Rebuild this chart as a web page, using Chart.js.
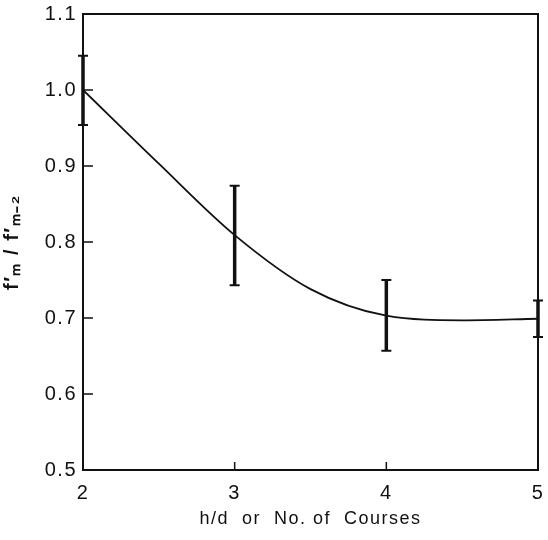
<!DOCTYPE html>
<html>
<head>
<meta charset="utf-8">
<script src="https://cdn.jsdelivr.net/npm/chart.js@4"></script>
<style>
  html, body { margin: 0; padding: 0; background: #fff; }
</style>
</head>
<body>
<canvas id="chart" width="548" height="540"></canvas>
<script>
// values
const courses = [2, 3, 4, 5];
const ratioMean = [1.0, 0.809, 0.703, 0.699];
const ratioHigh = [1.045, 0.874, 0.750, 0.723];
const ratioLow = [0.954, 0.743, 0.657, 0.675];

// fitted curve as drawn
const curveX = [2, 2.5, 3, 3.5, 4, 4.5, 5];
const curveY = [1.0, 0.903, 0.809, 0.738, 0.703, 0.697, 0.699];

const yTicks = [0.5, 0.6, 0.7, 0.8, 0.9, 1.0, 1.1];
const xTicks = [2, 3, 4, 5];

const ink = "#111";
const font = "'Liberation Sans', Arial, sans-serif";

// wider letter spacing like the labels of the scan
const spacingPlugin = {
  id: "spacing",
  beforeInit(chart) { chart.ctx.letterSpacing = "1.5px"; },
  beforeDraw(chart) { chart.ctx.letterSpacing = "1.5px"; }
};

// frame, inner tick marks and the error bars
const paperPlugin = {
  id: "paper",
  afterDatasetsDraw(chart) {
    const { ctx, chartArea: a, scales } = chart;
    const x = scales.x, y = scales.y;
    ctx.save();
    ctx.strokeStyle = ink;
    ctx.lineWidth = 2;
    ctx.strokeRect(a.left, a.top, a.right - a.left, a.bottom - a.top);

    ctx.lineWidth = 1.5;
    yTicks.forEach(v => {
      const py = y.getPixelForValue(v);
      ctx.beginPath();
      ctx.moveTo(a.left, py);
      ctx.lineTo(a.left + 10, py);
      ctx.stroke();
    });
    xTicks.forEach(v => {
      const px = x.getPixelForValue(v);
      ctx.beginPath();
      ctx.moveTo(px, a.bottom);
      ctx.lineTo(px, a.bottom - 8);
      ctx.stroke();
    });

    courses.forEach((c, i) => {
      const px = x.getPixelForValue(c);
      const top = y.getPixelForValue(ratioHigh[i]);
      const bot = y.getPixelForValue(ratioLow[i]);
      ctx.lineWidth = 3.5;
      ctx.beginPath();
      ctx.moveTo(px, top);
      ctx.lineTo(px, bot);
      ctx.stroke();
      ctx.lineWidth = 2;
      ctx.beginPath();
      ctx.moveTo(px - 5, top);
      ctx.lineTo(px + 5, top);
      ctx.moveTo(px - 5, bot);
      ctx.lineTo(px + 5, bot);
      ctx.stroke();
    });
    ctx.restore();
  }
};

new Chart(document.getElementById("chart"), {
  type: "scatter",
  data: {
    datasets: [{
      label: "curve",
      data: curveX.map((v, i) => ({ x: v, y: curveY[i] })),
      showLine: true,
      borderColor: ink,
      borderWidth: 1.8,
      pointRadius: 0,
      cubicInterpolationMode: "monotone",
      fill: false
    }]
  },
  options: {
    responsive: false,
    animation: false,
    devicePixelRatio: 1,
    layout: { padding: { left: 0, right: 10, top: 14, bottom: 0 } },
    plugins: { legend: { display: false }, tooltip: { enabled: false } },
    scales: {
      x: {
        type: "linear",
        min: 2, max: 5,
        afterFit(s) { s.height = 70; s.paddingLeft = 0; s.paddingRight = 0; },
        afterBuildTicks(s) { s.ticks = xTicks.map(v => ({ value: v })); },
        grid: { display: false, drawTicks: false },
        border: { display: false },
        ticks: { color: ink, padding: 11, maxRotation: 0, font: { family: font, size: 20 },
                 callback: v => String(v) },
        title: { display: true, text: "h/d  or  No. of  Courses", color: ink,
                 font: { family: font, size: 18 }, padding: { top: 0, bottom: 10 } }
      },
      y: {
        min: 0.5, max: 1.1,
        afterFit(s) { s.width = 83; s.paddingTop = 0; s.paddingBottom = 0; },
        afterBuildTicks(s) { s.ticks = yTicks.map(v => ({ value: v })); },
        grid: { display: false, drawTicks: false },
        border: { display: false },
        ticks: { color: ink, padding: 6, font: { family: font, size: 20 },
                 callback: v => v.toFixed(1) },
        title: { display: true, text: "f′ₘ / f′ₘ₋₂", color: ink,
                 font: { family: font, size: 20, weight: "bold" }, padding: { top: 0, bottom: 10 } }
      }
    }
  },
  plugins: [spacingPlugin, paperPlugin]
});
</script>
</body>
</html>
